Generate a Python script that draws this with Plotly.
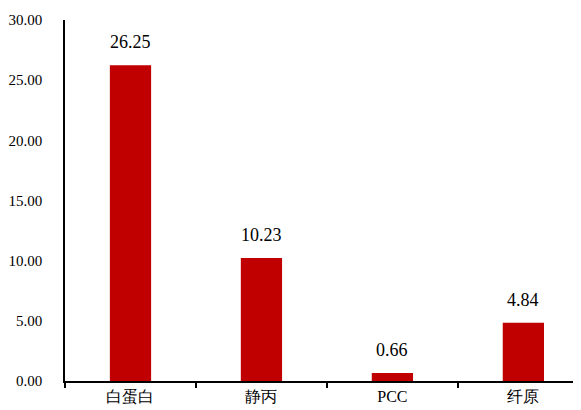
import plotly.graph_objects as go

# data
categories = ['白蛋白', '静丙', 'PCC', '纤原']
values = [26.25, 10.23, 0.66, 4.84]
value_labels = ['26.25', '10.23', '0.66', '4.84']

FONT = 'Times New Roman, Liberation Serif, serif'

fig = go.Figure()
fig.add_trace(go.Bar(x=categories, y=values, width=0.315,
                     marker=dict(color='#C00000', line=dict(width=0)),
                     hoverinfo='x+y'))

# value labels above each bar
for c, v, t in zip(categories, values, value_labels):
    fig.add_annotation(x=c, y=v, text=t, showarrow=False, yanchor='bottom',
                       yshift=11, font=dict(family=FONT, size=18, color='#000'))

# page body has an 8px margin, so the figure is sized/offset to compensate
fig.update_layout(
    width=573, height=402,
    margin=dict(l=57, r=0, t=12, b=29, autoexpand=False),
    paper_bgcolor='white', plot_bgcolor='white',
    showlegend=False,
    font=dict(family=FONT, size=16, color='#000'),
    xaxis=dict(type='category', range=[-0.5, 3.44], showline=True,
               linecolor='black', linewidth=2, ticks='outside',
               tickson='boundaries', ticklen=5, tickcolor='black',
               tickwidth=1.5, showgrid=False, zeroline=False,
               automargin=False, tickfont=dict(size=16)),
    yaxis=dict(range=[0, 30], dtick=5, tickformat='.2f', showline=True,
               linecolor='black', linewidth=1.5, ticks='', showgrid=False,
               zeroline=False, ticklabelstandoff=18, automargin=False,
               tickfont=dict(size=15)),
)

fig.write_html('out.html')
